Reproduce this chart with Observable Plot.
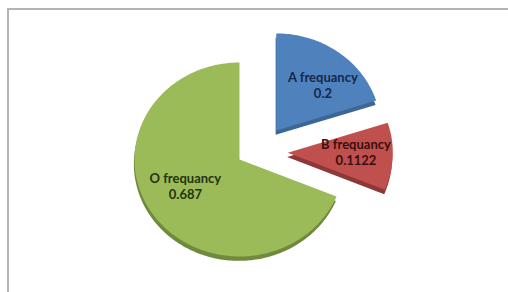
<!DOCTYPE html>
<html>
<head>
<meta charset="utf-8">
<script src="https://cdn.jsdelivr.net/npm/d3@7"></script>
<script src="https://cdn.jsdelivr.net/npm/@observablehq/plot@0.6"></script>
<style>
  html, body { margin: 0; padding: 0; background: #fff; }
  #wrap { position: relative; width: 508px; height: 292px; overflow: hidden; }
  #frame { position: absolute; left: 7px; top: 8px; right: -10px; bottom: -10px;
           border-top: 2px solid #b4b4b4; border-left: 2px solid #b4b4b4; pointer-events: none; }
</style>
</head>
<body>
<div id="wrap"><div id="frame"></div></div>
<script>
// ---- data ----
const categories = ["A frequancy", "B frequancy", "O frequancy"];
const values = [0.2, 0.1122, 0.687];
const valueLabels = ["0.2", "0.1122", "0.687"];

// ---- style ----
const faceColors = ["#4f81bd", "#c0504d", "#9bbb59"];
const sideColors = ["#3d6696", "#8c3836", "#6f8a3c"];
const textColors = ["#14284a", "#3a0e0e", "#24330c"];
// explode offsets (in radius units, x right / y up)
const explode = [[0.35, 0.30], [0.46, 0.07], [0, 0]];
const labelR = 0.62;
const labelShift = [[0.08, -0.03], [0.03, 0.035], [0, 0.075]];
const depth = 0.045; // 3D thickness in radius units

const pie = d3.pie().sort(null).value(d => d)(values);

const faces = [];
const sides = [];
const labels = [];
pie.forEach((p, i) => {
  const [ox, oy] = explode[i];
  const key = categories[i];
  const n = Math.max(8, Math.ceil((p.endAngle - p.startAngle) / 0.02));
  const pts = [[ox, oy]];
  for (let k = 0; k <= n; k++) {
    const a = p.startAngle + (p.endAngle - p.startAngle) * k / n;
    pts.push([ox + Math.sin(a), oy + Math.cos(a)]);
  }
  pts.push([ox, oy]);
  pts.forEach(([x, y]) => {
    faces.push({key, x, y});
    sides.push({key, x: x - 0.006, y: y - depth});
  });
  const mid = (p.startAngle + p.endAngle) / 2;
  labels.push({
    key,
    text: `${categories[i]}\n${valueLabels[i]}`,
    x: ox + labelR * Math.sin(mid) + labelShift[i][0],
    y: oy + labelR * Math.cos(mid) + labelShift[i][1],
    color: textColors[i]
  });
});

const W = 508, H = 292;
const cx = 239, cy = 159, rx = 105, ry = 97;

const chart = Plot.plot({
  width: W,
  height: H,
  margin: 0,
  x: {domain: [-cx / rx, (W - cx) / rx], range: [0, W], axis: null},
  y: {domain: [-(H - cy) / ry, cy / ry], range: [H, 0], axis: null},
  color: {domain: categories, range: faceColors},
  style: {background: "transparent"},
  marks: [
    Plot.line(sides, {x: "x", y: "y", z: "key", fill: (d) => sideColors[categories.indexOf(d.key)], stroke: "none"}),
    Plot.line(faces, {x: "x", y: "y", z: "key", fill: "key", stroke: "none"}),
    Plot.text(labels, {
      x: "x", y: "y", text: "text", fill: (d) => d.color,
      fontSize: 13, fontWeight: "bold", fontFamily: "Lato, 'Open Sans', sans-serif",
      lineHeight: 1.22
    })
  ]
});
document.getElementById("wrap").prepend(chart);
</script>
</body>
</html>
